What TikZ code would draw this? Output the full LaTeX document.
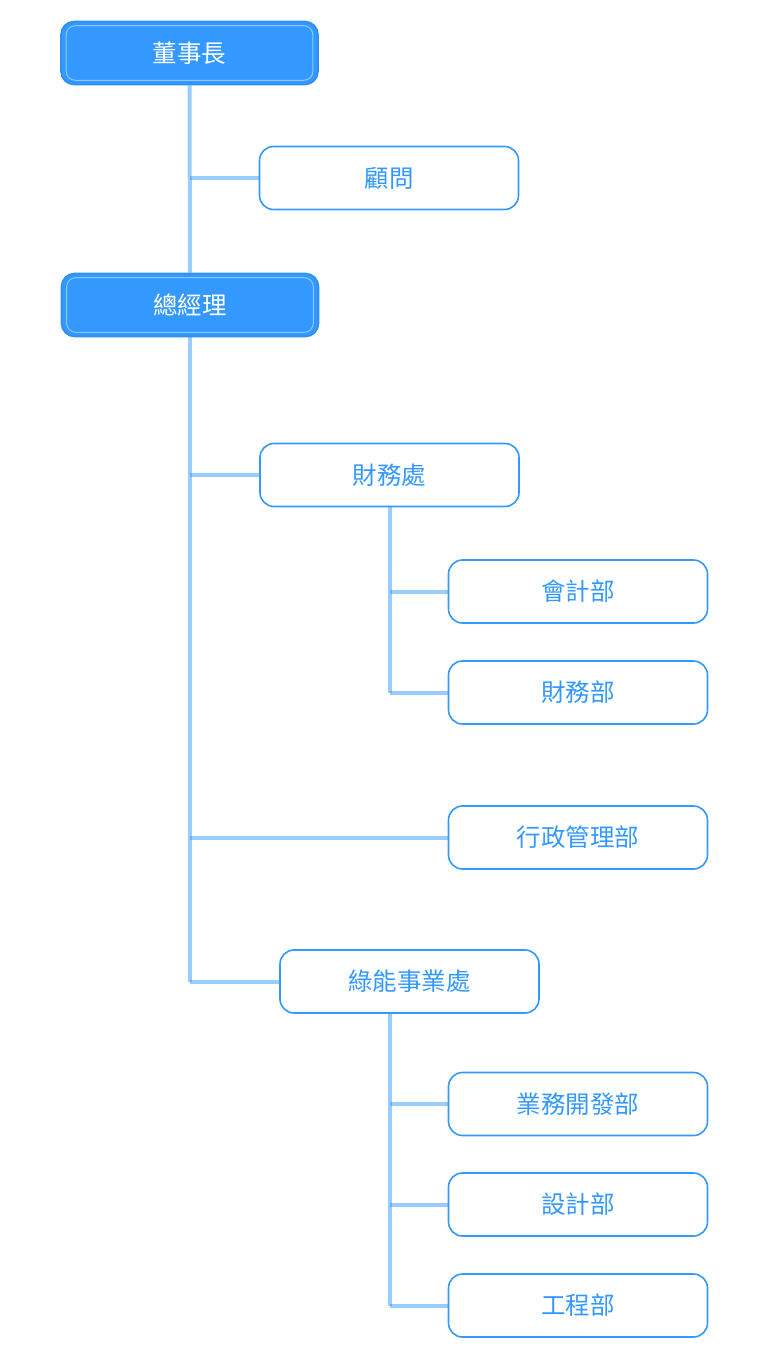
\documentclass[tikz,border=0pt]{standalone}
\usepackage{fontspec}
\newfontfamily\cjk{Noto Sans CJK TC}
\definecolor{mainblue}{HTML}{3399FF}
\definecolor{edgeblue}{HTML}{2F8FF5}
\pgfdeclarelayer{bg}
\pgfsetlayers{bg,main}
\tikzset{
  wbox/.style={draw=mainblue, line width=1.6pt, fill=white, rounded corners=14pt,
    minimum width=259pt, minimum height=63pt, inner sep=0pt,
    font=\cjk\fontsize{24.5}{28}\selectfont, text=mainblue},
  fbox/.style={draw=edgeblue, line width=1.6pt, fill=mainblue, rounded corners=13pt,
    minimum width=257pt, minimum height=63pt, inner sep=0pt,
    font=\cjk\fontsize{24.5}{28}\selectfont, text=white},
  innerline/.style={draw=white, draw opacity=0.45, line width=1pt, rounded corners=9pt},
  conn/.style={draw=mainblue, draw opacity=0.5, line width=4pt},
}
\begin{document}
\begin{tikzpicture}[x=1pt,y=-1pt]
\useasboundingbox (0,0) rectangle (768,1360);
\node[wbox] (guwen) at (389,178) {顧問};
\node[wbox] (cwc) at (389.5,475) {財務處};
\node[wbox] (kjb) at (578,591.5) {會計部};
\node[wbox] (cwb) at (578,692.5) {財務部};
\node[wbox] (xzb) at (578,837.5) {行政管理部};
\node[wbox] (lnc) at (409.5,981.5) {綠能事業處};
\node[wbox] (ywb) at (578,1104) {業務開發部};
\node[wbox] (sjb) at (578,1204.5) {設計部};
\node[wbox] (gcb) at (578,1305.5) {工程部};
\node[fbox] (dsz) at (189.5,53) {董事長};
\node[fbox] (zjl) at (190,305) {總經理};
\begin{pgfonlayer}{bg}
\draw[conn] (dsz.south) -- (zjl.north);
\draw[conn] (dsz.south |- guwen.west) -- (guwen.west);
\draw[conn] (zjl.south) -- (zjl.south |- lnc.west);
\draw[conn] (zjl.south |- cwc.west) -- (cwc.west);
\draw[conn] (zjl.south |- xzb.west) -- (xzb.west);
\draw[conn] (zjl.south |- lnc.west) -- (lnc.west);
\draw[conn] (cwc.south) -- (cwc.south |- cwb.west);
\draw[conn] (cwc.south |- kjb.west) -- (kjb.west);
\draw[conn] (cwc.south |- cwb.west) -- (cwb.west);
\draw[conn] (lnc.south -| cwc.south) -- (cwc.south |- gcb.west);
\draw[conn] (cwc.south |- ywb.west) -- (ywb.west);
\draw[conn] (cwc.south |- sjb.west) -- (sjb.west);
\draw[conn] (cwc.south |- gcb.west) -- (gcb.west);
\end{pgfonlayer}
\draw[innerline] ([shift={(6pt,-5pt)}]dsz.north west) rectangle ([shift={(-6pt,5pt)}]dsz.south east);
\draw[innerline] ([shift={(6pt,-5pt)}]zjl.north west) rectangle ([shift={(-6pt,5pt)}]zjl.south east);
\end{tikzpicture}
\end{document}
